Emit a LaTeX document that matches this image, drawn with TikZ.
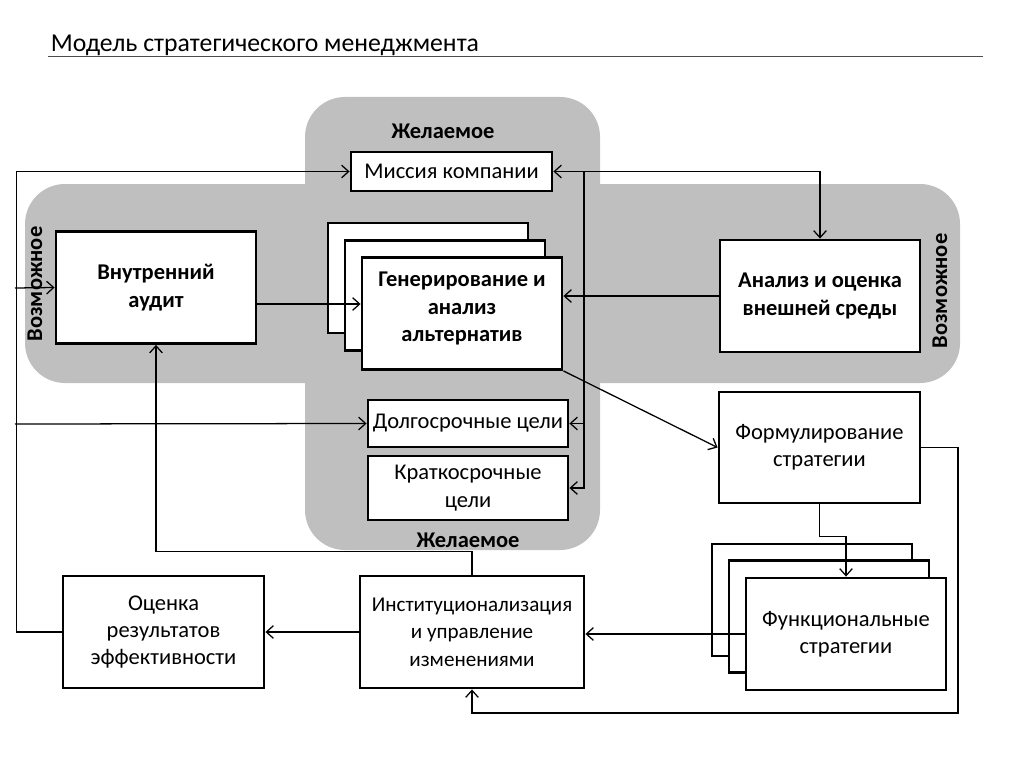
\documentclass[tikz,border=0pt]{standalone}
\usepackage{fontspec}
\setmainfont{Carlito}
\usetikzlibrary{arrows.meta}

\begin{document}
\begin{tikzpicture}[
    x=0.025cm, y=-0.025cm,
    every node/.style={font=\fontsize{16}{19.5}\selectfont},
    box/.style={draw, line width=2pt, fill=white, align=center, inner sep=2pt,
      minimum width=5cm, minimum height=#1},
    box/.default=2.8cm,
    boldbox/.style={box=#1, font=\fontsize{16}{19.5}\selectfont\bfseries},
    boldbox/.default=2.8cm,
    zone/.style={fill=black!25, rounded corners=1cm},
    zonelabel/.style={font=\fontsize{16}{19}\selectfont\bfseries},
    conn/.style={->, line width=0.9pt},
    >={Straight Barb[length=5pt,width=9pt]}
  ]
  \useasboundingbox (0,0) rectangle (1024,768);

  \node[anchor=west, font=\fontsize{18.3}{22}\selectfont] (title) at (46,45)
    {Модель стратегического менеджмента};
  \draw[black!70, line width=0.6pt] (48,56) -- (983,56);

  \fill[zone] (305,97) rectangle (600,550);
  \fill[zone] (25,184) rectangle (960,383);

  \node[zonelabel] (wantTop) at (443,131) {Желаемое};
  \node[zonelabel] (wantBot) at (468,540) {Желаемое};
  \node[zonelabel, rotate=90] (canLeft) at (35,284) {Возможное};
  \node[zonelabel, rotate=90] (canRight) at (940,291) {Возможное};

  \node[box=0.975cm, minimum width=5.025cm] (mission) at (451.5,171.5) {Миссия компании};
  \node[boldbox] (audit) at (156,287.5) {Внутренний\\аудит};
  \node[box=2.75cm] (gen3) at (428,278) {};
  \node[box=2.75cm] (gen2) at (445,295.5) {};
  \node[boldbox] (gen) at (462,313.5) {Генерирование и\\анализ\\альтернатив\\[-10pt]};
  \node[boldbox] (env) at (820,296) {Анализ и оценка\\внешней среды};
  \node[box=1.175cm] (longgoals) at (468,423.5) {Долгосрочные цели};
  \node[box=1.6cm] (shortgoals) at (468,488) {Краткосрочные\\цели};
  \node[box=2.775cm, minimum width=5.025cm] (formul) at (819.5,447.5) {Формулирование\\стратегии};
  \node[box] (func3) at (812,600) {};
  \node[box] (func2) at (829,616.5) {};
  \node[box] (func) at (846,634) {Функциональные\\стратегии};
  \node[box, minimum width=5.6cm, font=\fontsize{15}{19.5}\selectfont] (inst) at (472,632)
    {Институционализация\\и управление\\изменениями};
  \node[box, minimum width=5.025cm] (eval) at (163.5,632) {Оценка\\результатов\\эффективности};

  \coordinate (inA) at (15,288);
  \coordinate (inB) at (15,424);
  \coordinate (rail) at (584,171);

  \draw[conn] (eval.west) -- ++(-45,0) |- (mission.west);
  \draw[conn] (inA) -- (audit.west);
  \draw[conn] (inB) -- (longgoals.west);
  \draw[conn, <->] (mission.east) -| (env.north);
  \draw[conn] (rail) |- (shortgoals.east);
  \draw[conn] (rail |- longgoals.east) -- (longgoals.east);
  \draw[conn] (audit.east |- 0,304) -- (gen.west |- 0,304);
  \draw[conn] (env.west) -- (gen.east |- env.west);
  \draw[conn] (gen.south east) -- (formul.west);
  \draw[conn] (formul.south) -- ++(0,32) -| (func.north);
  \draw[conn] (formul.east) -| (958,713) -| (inst.south);
  \draw[conn] (func.west) -- (inst.east |- func.west);
  \draw[conn] (inst.west) -- (eval.east);
  \draw[conn] (inst.north) -- ++(0,-23) -| (audit.south);
\end{tikzpicture}
\end{document}
